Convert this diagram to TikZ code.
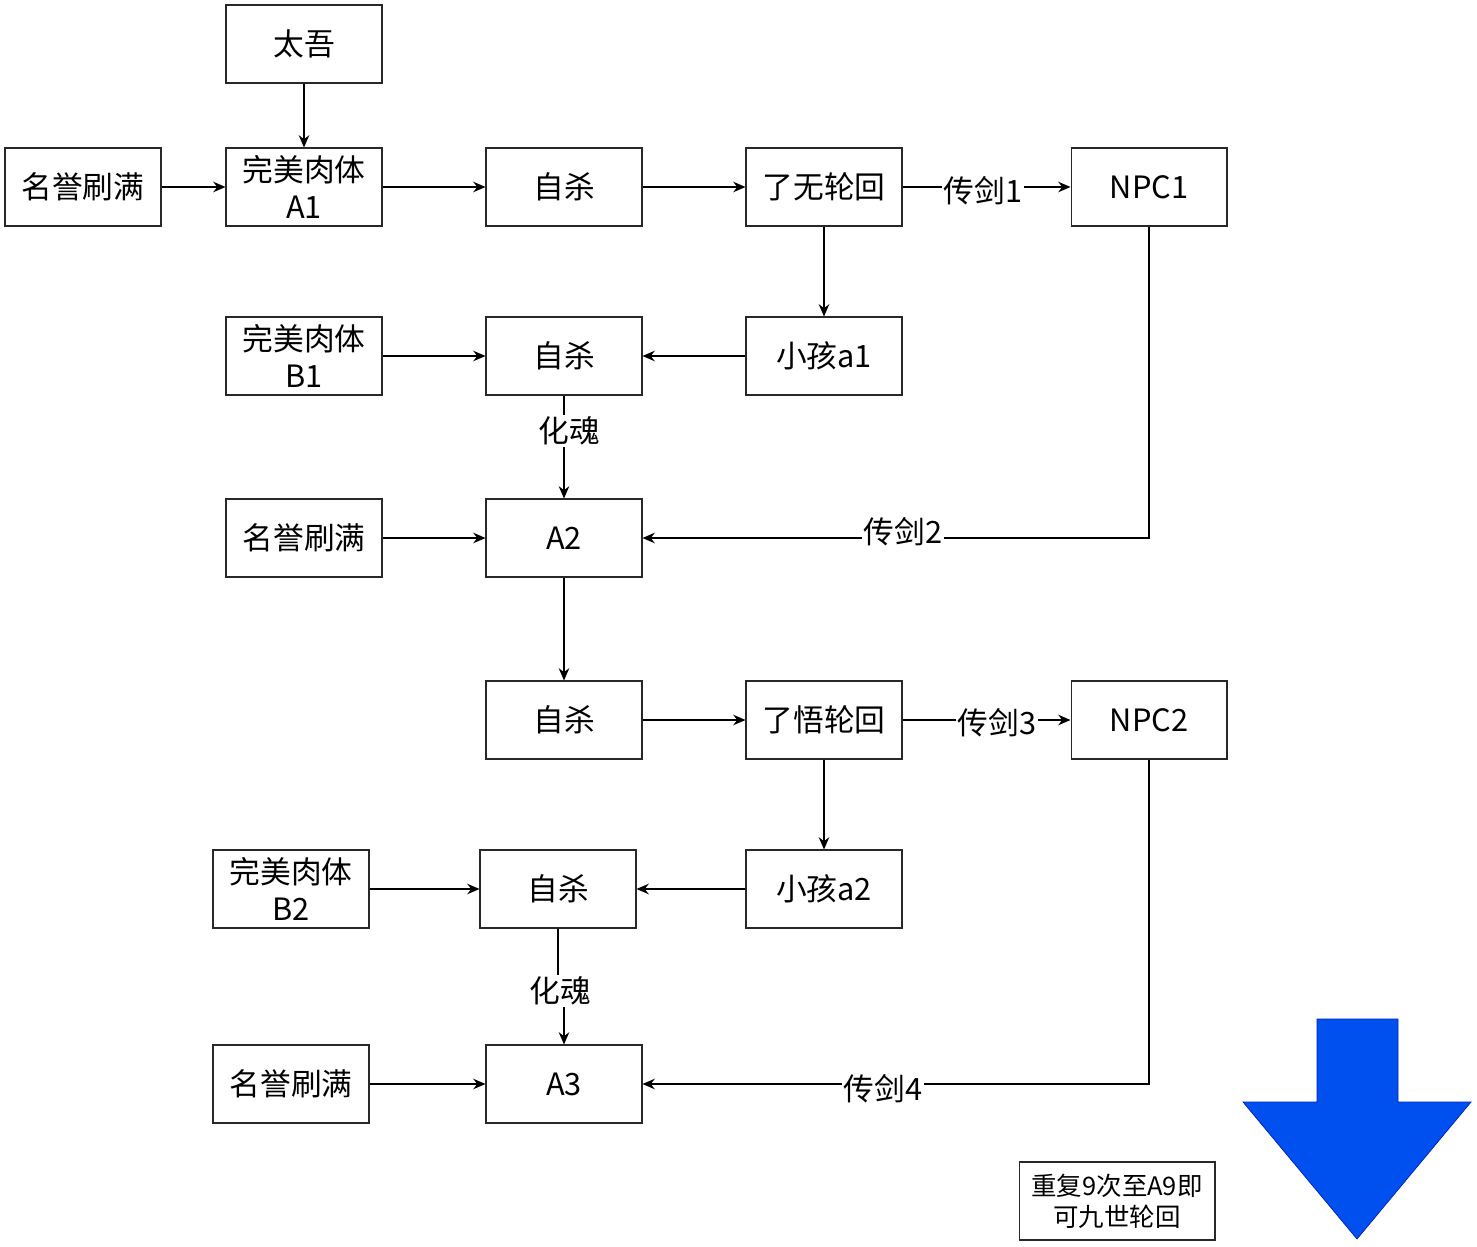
\documentclass[tikz,border=0pt]{standalone}
\usepackage{fontspec}
\setmainfont{Noto Sans CJK SC}
\usepackage{tikz}
\usetikzlibrary{
    positioning,
    arrows.meta
}
\definecolor{boxLine}{RGB}{40, 40, 40}
\definecolor{arrowBlue}{RGB}{0, 80, 239}
\definecolor{arrowEdge}{RGB}{0, 29, 188}

\tikzset{
    box/.style={draw=boxLine, line width=0.6pt, minimum width=3.12cm, minimum height=1.56cm,
        align=center, inner sep=0pt, font=\fontsize{17.5}{21.5}\selectfont},
    lbl/.style={fill=white, inner sep=1pt, font=\fontsize{17.5}{21.5}\selectfont},
    link/.style={line width=0.7pt, -{Stealth[length=7pt, width=6pt]}}
}

\begin{document}
\begin{tikzpicture}[x=0.02cm, y=-0.02cm]
        \useasboundingbox (0,0) rectangle (1477,1247);
        % First life
        \node[box] (taiwu) at (304,44) {太吾};
        \node[box] (ming1) at (83,187) {名誉刷满};
        \node[box] (a1) at (304,187) {完美肉体\\A1};
        \node[box] (zs1) at (564,187) {自杀};
        \node[box] (lw) at (824,187) {了无轮回};
        \node[box] (npc1) at (1149,187) {NPC1};
        \node[box] (b1) at (304,356) {完美肉体\\B1};
        \node[box] (zs2) at (564,356) {自杀};
        \node[box] (kid1) at (824,356) {小孩a1};
        \node[box] (ming2) at (304,538) {名誉刷满};
        \node[box] (a2) at (564,538) {A2};
        
        \draw[link] (taiwu) -- (a1);
        \draw[link] (ming1) -- (a1);
        \draw[link] (a1) -- (zs1);
        \draw[link] (zs1) -- (lw);
        \draw[link] (lw) -- (npc1);
        \node[lbl] (sw1) at (983,191) {传剑1};
        \draw[link] (lw) -- (kid1);
        \draw[link] (kid1) -- (zs2);
        \draw[link] (b1) -- (zs2);
        \draw[link] (zs2) -- (a2);
        \node[lbl] (soul1) at (569,431) {化魂};
        \draw[link] (ming2) -- (a2);
        \draw[link] (npc1) |- (a2);
        \node[lbl] (sw2) at (903,532) {传剑2};
        
        % Second life
        \node[box] (zs3) at (564,720) {自杀};
        \node[box] (lw2) at (824,720) {了悟轮回};
        \node[box] (npc2) at (1149,720) {NPC2};
        \node[box] (b2) at (291,889) {完美肉体\\B2};
        \node[box] (zs4) at (558,889) {自杀};
        \node[box] (kid2) at (824,889) {小孩a2};
        \node[box] (ming3) at (291,1084) {名誉刷满};
        \node[box] (a3) at (564,1084) {A3};
        
        \draw[link] (a2) -- (zs3);
        \draw[link] (zs3) -- (lw2);
        \draw[link] (lw2) -- (npc2);
        \node[lbl] (sw3) at (997,723) {传剑3};
        \draw[link] (lw2) -- (kid2);
        \draw[link] (kid2) -- (zs4);
        \draw[link] (b2) -- (zs4);
        \coordinate (bend) at (558,991);
        \draw[link] (zs4.south) -- (bend) -| (a3.north);
        \node[lbl] (soul2) at (560,991) {化魂};
        \draw[link] (ming3) -- (a3);
        \draw[link] (npc2) |- (a3);
        \node[lbl] (sw4) at (883,1089) {传剑4};
        
        % Note and big arrow
        \node[box, minimum width=3.92cm, font=\fontsize{14.5}{17.6}\selectfont] (note) at (1117,1201) {重复9次至A9即\\可九世轮回};
        \filldraw[fill=arrowBlue, draw=arrowEdge, line width=0.4pt]
            (1317,1019) -- (1398,1019) -- (1398,1102) -- (1471,1102)
            -- (1357,1239) -- (1243,1102) -- (1317,1102) -- cycle;
    \end{tikzpicture}
\end{document}
